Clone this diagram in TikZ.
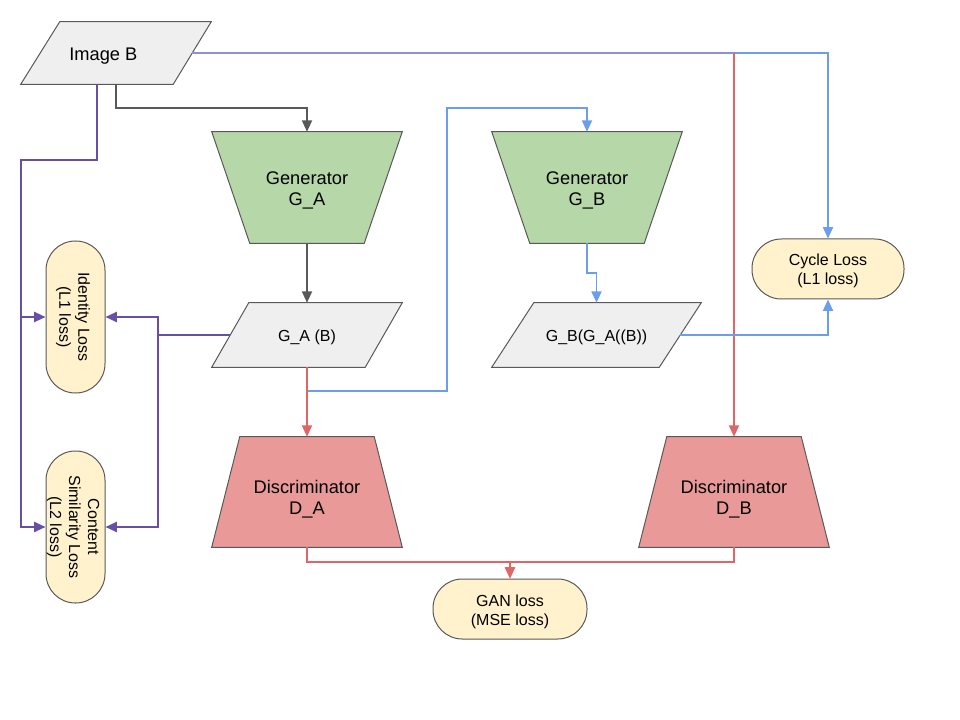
\documentclass[tikz,border=0pt]{standalone}
\usepackage{fontspec}
\setmainfont{Liberation Sans}
\usetikzlibrary{calc,arrows.meta}
\pgfdeclarelayer{bg}
\pgfsetlayers{bg,main}

\definecolor{edgeGray}{HTML}{595959}
\definecolor{lineGray}{HTML}{595959}
\definecolor{purp}{HTML}{674EA7}
\definecolor{blu}{HTML}{6D9EEB}
\definecolor{rd}{HTML}{E06666}
\definecolor{mixline}{RGB}{142,142,218}
\definecolor{genfill}{HTML}{B6D7A8}
\definecolor{discfill}{HTML}{EA9999}
\definecolor{lossfill}{HTML}{FFF2CC}
\definecolor{datafill}{HTML}{EFEFEF}

\newcommand\labelfont{\fontsize{13.7pt}{15.75pt}\selectfont}
\newcommand\lossfont{\fontsize{12pt}{14.25pt}\selectfont}
% centred lines of text, lowered by #1 without changing the box size
\newcommand\droptext[2]{\raisebox{-#1}[\height][\depth]{\begin{tabular}{@{}c@{}}#2\end{tabular}}}

\tikzset{
  box/.style={inner sep=0pt},
  outline/.style={draw=edgeGray, line width=0.75pt},
  pill/.style={box, outline, fill=lossfill, rounded corners=22pt, font=\lossfont},
  link/.style={line width=1.3pt, -{Triangle[length=8.5pt,width=7.5pt]}},
  purplink/.style={link, draw=purp, line width=1.6pt},
}

\begin{document}
\begin{tikzpicture}[x=0.75pt,y=-0.75pt]
\useasboundingbox (0,0) rectangle (960,720);

% data nodes (parallelograms)
\node[box, font=\labelfont, minimum width=190*0.75pt, minimum height=62*0.75pt] (IB) at (116,53) {\droptext{2.6pt}{Image B\kern19pt}};
\node[box, font=\lossfont, minimum width=190*0.75pt, minimum height=64*0.75pt] (GAB) at (307,335) {\droptext{2.2pt}{G\_A (B)}};
\node[box, font=\lossfont, minimum width=209*0.75pt, minimum height=64*0.75pt] (GBB) at (596.5,335) {\droptext{2.2pt}{G\_B(G\_A((B))}};

% generators and discriminators (trapezoids)
\node[box, font=\labelfont, minimum width=190*0.75pt, minimum height=111*0.75pt] (GA) at (307,187.5) {\droptext{2.6pt}{Generator\\G\_A}};
\node[box, font=\labelfont, minimum width=190*0.75pt, minimum height=111*0.75pt] (GB) at (587,187.5) {\droptext{2.6pt}{Generator\\G\_B}};
\node[box, font=\labelfont, minimum width=190*0.75pt, minimum height=110*0.75pt] (DA) at (307,492) {\droptext{6pt}{Discriminator\\D\_A}};
\node[box, font=\labelfont, minimum width=190*0.75pt, minimum height=110*0.75pt] (DB) at (734,492) {\droptext{6pt}{Discriminator\\D\_B}};

% loss terms
\node[pill, minimum width=152*0.75pt, minimum height=60*0.75pt] (CL) at (828,269) {\droptext{1.8pt}{Cycle Loss\\(L1 loss)}};
\node[pill, minimum width=154*0.75pt, minimum height=60*0.75pt] (GAN) at (510,609) {\droptext{2.5pt}{GAN loss\\(MSE loss)}};
\node[pill, minimum width=59*0.75pt, minimum height=152*0.75pt] (IL) at (75.5,317)
  {\rotatebox{-90}{\droptext{2.2pt}{Identity Loss\\(L1 loss)}}};
\node[pill, minimum width=59*0.75pt, minimum height=152*0.75pt] (CS) at (75.5,527)
  {\rotatebox{-90}{\droptext{2pt}{Content\\Similarity Loss\\(L2 loss)}}};

\begin{pgfonlayer}{bg}
  \path[outline, fill=datafill] ($(IB.north west)+(39,0)$) -- (IB.north east) -- ($(IB.south east)+(-38,0)$) -- (IB.south west) -- cycle;
  \path[outline, fill=datafill] ($(GAB.north west)+(37,0)$) -- (GAB.north east) -- ($(GAB.south east)+(-37,0)$) -- (GAB.south west) -- cycle;
  \path[outline, fill=datafill] ($(GBB.north west)+(42,0)$) -- (GBB.north east) -- ($(GBB.south east)+(-42,0)$) -- (GBB.south west) -- cycle;
  \path[outline, fill=genfill] (GA.north west) -- (GA.north east) -- ($(GA.south east)+(-38,0)$) -- ($(GA.south west)+(38,0)$) -- cycle;
  \path[outline, fill=genfill] (GB.north west) -- (GB.north east) -- ($(GB.south east)+(-38,0)$) -- ($(GB.south west)+(38,0)$) -- cycle;
  \path[outline, fill=discfill] ($(DA.north west)+(28,0)$) -- ($(DA.north east)+(-28,0)$) -- (DA.south east) -- (DA.south west) -- cycle;
  \path[outline, fill=discfill] ($(DB.north west)+(28,0)$) -- ($(DB.north east)+(-28,0)$) -- (DB.south east) -- (DB.south west) -- cycle;
\end{pgfonlayer}

% connection points on slanted sides
\coordinate (IBe) at ($(IB.east)+(-19,0)$);
\coordinate (IBp) at ($(IB.south)+(-19,0)$);
\coordinate (GABw) at ($(GAB.west)+(18.5,0)$);
\coordinate (GBBe) at ($(GBB.east)+(-21,0)$);
\coordinate (pl) at (21,160);
\coordinate (pr) at (158,335);

% generator path
\draw[link, draw=lineGray] (IB.south) -- ++(0,24) -| (GA.north);
\draw[link, draw=lineGray] (GA.south) -- (GAB.north);

% identity / content losses
\draw[purplink] (IBp) |- (pl) |- (CS.west);
\draw[purplink] (pl |- IL.west) -- (IL.west);
\draw[purplink] (GABw) -- (pr) |- (IL.east);
\draw[purplink] (pr) |- (CS.east);

% cycle path
\draw[link, draw=blu] (IBe) -| (CL.north);
\draw[link, draw=rd] (IBe) -| (DB.north);
\draw[line width=1.3pt, draw=mixline] (IBe) -- (DB.north |- IBe);
\draw[link, draw=blu] (GAB.south) |- (447,391) |- ($(GB.north)+(0,-24)$) -- (GB.north);
\draw[link, draw=rd] (GAB.south) -- (DA.north);
\draw[link, draw=blu] (GB.south) -- ++(0,30) -| (GBB.north);
\draw[link, draw=blu] (GBBe) -| (CL.south);

% adversarial losses
\draw[link, draw=rd] (DA.south) -- ++(0,15) -| (GAN.north);
\draw[link, draw=rd] (DB.south) -- ++(0,15) -| (GAN.north);
\end{tikzpicture}
\end{document}
